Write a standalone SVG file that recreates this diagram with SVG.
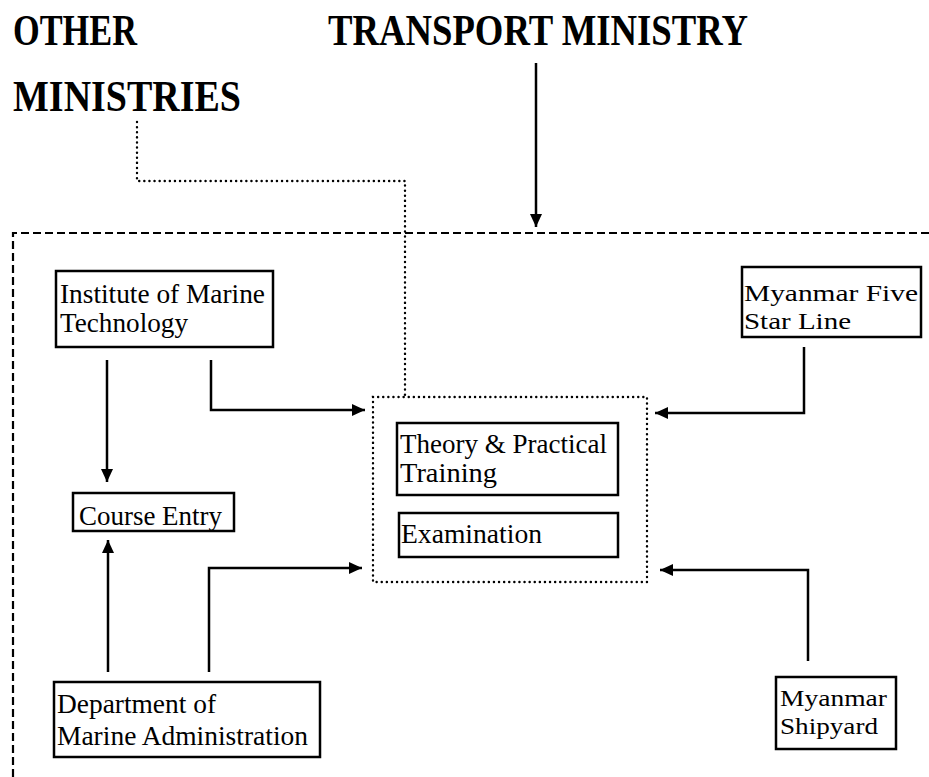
<svg xmlns="http://www.w3.org/2000/svg" width="929" height="777" viewBox="0 0 929 777">
<style>
.title{font-family:"Liberation Serif","Times New Roman",serif;font-weight:bold;font-size:44px;fill:#000}
.lbl{font-family:"Liberation Serif","Times New Roman",serif;font-size:27px;fill:#000}
.sm{font-size:24px}
.box{fill:#fff;stroke:#000;stroke-width:2.5}
.conn{fill:none;stroke:#000;stroke-width:2.5}
.dot{fill:none;stroke:#000;stroke-width:2.4;stroke-dasharray:0.1 5;stroke-linecap:round}
.dash{fill:none;stroke:#000;stroke-width:2.2;stroke-dasharray:8 4}
</style>
<defs>
<marker id="arr" markerUnits="userSpaceOnUse" markerWidth="14" markerHeight="12" refX="13" refY="6" orient="auto">
<path d="M0,0 L13,6 L0,12 Z" fill="#000"/>
</marker>
</defs>
<rect width="929" height="777" fill="#fff"/>
<g id="other-ministries">
<text class="title" x="13" y="45" textLength="124" lengthAdjust="spacingAndGlyphs">OTHER</text>
<text class="title" x="13" y="111" textLength="228" lengthAdjust="spacingAndGlyphs">MINISTRIES</text>
</g>
<g id="transport-ministry">
<text class="title" x="328" y="45" textLength="420" lengthAdjust="spacingAndGlyphs">TRANSPORT MINISTRY</text>
</g>
<g id="boundary">
<path class="dash" d="M13,777 V233 H929"/>
</g>
<g id="training-center">
<rect x="373" y="397" width="274" height="185" class="dot"/>
</g>
<g id="theory">
<rect x="397" y="423" width="221" height="72" class="box"/>
<text class="lbl" x="400" y="453" textLength="207" lengthAdjust="spacingAndGlyphs">Theory &amp; Practical</text>
<text class="lbl" x="400" y="482" textLength="97" lengthAdjust="spacingAndGlyphs">Training</text>
</g>
<g id="examination">
<rect x="399" y="513" width="219" height="44" class="box"/>
<text class="lbl" x="401" y="543" textLength="141" lengthAdjust="spacingAndGlyphs">Examination</text>
</g>
<g id="institute">
<rect x="56" y="271" width="217" height="76" class="box"/>
<text class="lbl" x="60" y="303" textLength="205" lengthAdjust="spacingAndGlyphs">Institute of Marine</text>
<text class="lbl" x="60" y="332" textLength="128" lengthAdjust="spacingAndGlyphs">Technology</text>
</g>
<g id="five-star">
<rect x="742" y="267" width="179" height="70" class="box"/>
<text class="lbl sm" x="744" y="301" textLength="174" lengthAdjust="spacingAndGlyphs">Myanmar Five</text>
<text class="lbl sm" x="744" y="329" textLength="107" lengthAdjust="spacingAndGlyphs">Star Line</text>
</g>
<g id="course-entry">
<rect x="73" y="493" width="161" height="38" class="box"/>
<text class="lbl" x="79" y="525" textLength="143" lengthAdjust="spacingAndGlyphs">Course Entry</text>
</g>
<g id="dma">
<rect x="54" y="682" width="266" height="75" class="box"/>
<text class="lbl" x="57" y="713" textLength="159" lengthAdjust="spacingAndGlyphs">Department of</text>
<text class="lbl" x="57" y="745" textLength="251" lengthAdjust="spacingAndGlyphs">Marine Administration</text>
</g>
<g id="shipyard">
<rect x="776" y="677" width="120" height="72" class="box"/>
<text class="lbl sm" x="780" y="706" textLength="107" lengthAdjust="spacingAndGlyphs">Myanmar</text>
<text class="lbl sm" x="780" y="734" textLength="98" lengthAdjust="spacingAndGlyphs">Shipyard</text>
</g>
<g id="connectors">
<path class="conn" d="M536,63 V227" marker-end="url(#arr)"/>
<path class="dot" d="M137,122 V181 H405 V397"/>
<path class="conn" d="M107,360 V482" marker-end="url(#arr)"/>
<path class="conn" d="M211,360 V410 H365" marker-end="url(#arr)"/>
<path class="conn" d="M108,672 V540" marker-end="url(#arr)"/>
<path class="conn" d="M209,672 V568 H362" marker-end="url(#arr)"/>
<path class="conn" d="M804,347 V413 H655" marker-end="url(#arr)"/>
<path class="conn" d="M808,661 V570 H660" marker-end="url(#arr)"/>
</g>
</svg>
